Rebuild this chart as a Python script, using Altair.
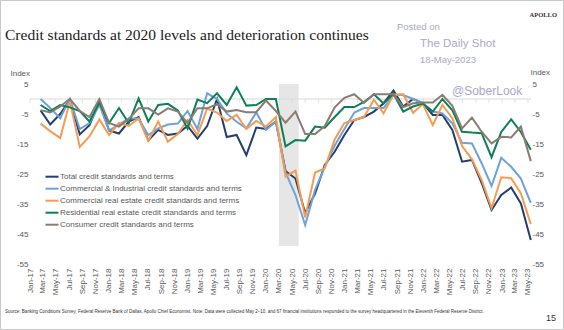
import altair as alt
import pandas as pd

# ---------------- data ----------------
dates = [
    "2017-02-19", "2017-04-05", "2017-05-21", "2017-07-05", "2017-08-20", "2017-10-04",
    "2017-11-19", "2018-01-03", "2018-02-18", "2018-04-04", "2018-05-20", "2018-07-04",
    "2018-08-19", "2018-10-03", "2018-11-18", "2019-01-02", "2019-02-17", "2019-04-03",
    "2019-05-19", "2019-07-03", "2019-08-18", "2019-10-02", "2019-11-17", "2020-01-01",
    "2020-02-16", "2020-04-01", "2020-05-17", "2020-07-01", "2020-08-16", "2020-09-30",
    "2020-11-15", "2020-12-30", "2021-02-14", "2021-03-31", "2021-05-16", "2021-06-30",
    "2021-08-15", "2021-09-29", "2021-11-14", "2021-12-29", "2022-02-13", "2022-03-30",
    "2022-05-15", "2022-06-29", "2022-08-14", "2022-09-28", "2022-11-13", "2022-12-28",
    "2023-02-12", "2023-03-29", "2023-05-14",
]

total = [-3.8, -8.5, -5.0, -0.3, -11.8, -8.7, -1.0, -10.5, -11.5, -7.5,
         -6.0, -13.8, -10.3, -12.0, -11.5, -9.0, -13.2, -9.0, 0.0, -12.7,
         -12.0, -18.7, -9.5, -10.0, -7.5, -24.0, -26.5, -38.0, -31.5, -22.0,
         -17.6, -12.0, -7.0, -6.0, -4.2, -1.4, 2.8, -2.5, 0.0, -1.4,
         -5.3, -5.3, -10.3, -20.9, -20.3, -28.0, -37.0, -32.0, -29.5, -34.8,
         -47.0]
ci = [0.0, -3.0, -6.4, 0.0, -10.0, -8.0, -2.0, -10.5, -8.5, -6.5,
      -6.5, -12.0, -9.8, -8.5, -8.2, -4.0, -10.0, 1.9, 0.0, -4.8,
      -7.6, -9.8, -4.5, -10.3, -7.5, -24.5, -32.0, -42.0, -30.3, -22.6,
      -15.5, -10.0, -4.5, -3.0, -3.0, -3.0, 1.3, 1.3, 0.0, -1.4,
      -4.2, -4.8, -8.1, -14.6, -14.8, -21.4, -29.0, -19.6, -22.6, -26.5,
      -34.6]
cre = [-8.2, -10.7, -13.0, -0.8, -16.0, -12.5, -6.8, -12.0, -8.0, -9.0,
       -6.5, -14.0, -7.5, -14.2, -11.7, -7.0, -12.0, -3.2, -4.5, -7.3,
       -5.3, -10.0, -7.3, -9.2, -6.0, -25.9, -23.9, -39.5, -24.5, -23.1,
       -13.5, -8.0, -7.0, -6.0, -0.3, -4.8, 1.5, 1.6, -4.6, -1.7,
       -8.7, -2.0, -6.4, -15.7, -20.1, -27.0, -36.4, -26.1, -26.4, -31.4,
       -41.7]
res = [-2.0, -4.0, -2.0, -2.8, -4.0, -7.5, -1.2, -8.0, -3.0, -8.0,
       0.2, -7.5, -2.0, -1.6, -3.8, -9.8, -0.2, -1.4, 1.9, -2.0,
       3.9, -2.2, -2.0, 0.0, 0.0, -15.8, -13.7, -13.9, -9.2, -9.6,
       -6.0, -2.7, -2.7, -1.0, 1.6, -1.5, 1.7, -4.2, -2.5, -1.5,
       -4.2, 0.0, -3.8, -10.9, -11.2, -11.4, -19.4, -11.0, -6.8, -11.0,
       -16.9]
cons = [-3.7, -4.5, -2.5, 0.0, -4.0, -6.0, 0.0, -8.0, -9.2, -6.7,
        -3.1, -3.1, -5.2, -3.1, -4.2, -8.0, -3.1, -3.1, -1.7, -4.2,
        -3.7, -4.4, -4.4, -0.5, -4.0, -7.9, -4.2, -11.7, -11.7, -9.0,
        -2.8, 0.4, 1.6, -1.3, 1.6, 1.6, 1.6, -2.7, -1.4, -1.2,
        -1.2, 1.4, -2.3, -9.8, -6.2, -10.9, -14.8, -12.6, -12.8, -9.2,
        -20.7]

series_names = [
    "Total credit standards and terms",
    "Commercial & Industrial credit standards and terms",
    "Commercial real estate credit standards and terms",
    "Residential real estate credit standards and terms",
    "Consumer credit standards and terms",
]
series_values = [total, ci, cre, res, cons]
series_colors = ["#253F6C", "#6EA2DA", "#F59B52", "#0E7F57", "#8A7C73"]

y_ticks = [5, -5, -15, -25, -35, -45, -55]
tick_months = [(y, m) for y in range(2017, 2024) for m in (1, 3, 5, 7, 9, 11) if (y, m) <= (2023, 5)]
shade_start, shade_end = "2020-03-01", "2020-06-01"
shade_top, shade_bottom = 5, -49

title_text = "Credit standards at 2020 levels and deterioration continues"
source_text = ("Source: Banking Conditions Survey, Federal Reserve Bank of Dallas, Apollo Chief Economist. "
               "Note: Data were collected May 2\u201310, and 67 financial institutions responded to the survey "
               "headquartered in the Eleventh Federal Reserve District.")

rows = []
for name, vals in zip(series_names, series_values):
    for d, v in zip(dates, vals):
        rows.append({"date": d, "series": name, "value": v})
df = pd.DataFrame(rows)

ticks_df = pd.DataFrame({"d": [f"{y}-{m:02d}-01" for (y, m) in tick_months]})
zero_df = pd.DataFrame({"v": [0]})
shade_df = pd.DataFrame({"start": [shade_start], "end": [shade_end],
                         "top": [shade_top], "bottom": [shade_bottom]})

# ---------------- styling ----------------
W, H = 501, 180
FONT = "Liberation Sans"
GREY = "#595959"
WM = "#A9A9CC"

x_scale = alt.Scale(type="utc",
                    domain=[alt.DateTime(year=2017, month=1, date=1, utc=True),
                            alt.DateTime(year=2023, month=5, date=15, utc=True)])
y_scale = alt.Scale(domain=[-55, 5], nice=False, zero=False)

x_axis = alt.Axis(values=[alt.DateTime(year=y, month=m, date=1, utc=True) for (y, m) in tick_months],
                  format="%b-%y", labelAngle=-90, labelFontSize=8, labelFont=FONT,
                  labelColor=GREY, ticks=False, domain=False, grid=False, labelPadding=4,
                  labelOverlap=False, labelFlush=False, title=None)

y_axis_left = alt.Axis(values=y_ticks,
                       labelExpr="datum.value < 0 ? '-' + (-datum.value) : '' + datum.value",
                       ticks=False, domain=False, grid=False, labelFontSize=8, labelFont=FONT,
                       labelColor=GREY, labelPadding=2, title="Index", titleAngle=0,
                       titleAlign="left", titleBaseline="middle", titleX=-20, titleY=-11,
                       titleFontSize=8, titleFontWeight="normal", titleColor=GREY, titleFont=FONT)
y_axis_right = alt.Axis(values=y_ticks, orient="right",
                        labelExpr="datum.value < 0 ? '-' + (-datum.value) : '\u00a0' + datum.value",
                        ticks=False, domain=False, grid=False, labelFontSize=8, labelFont=FONT,
                        labelColor=GREY, labelPadding=1, title="Index", titleAngle=0,
                        titleAlign="left", titleBaseline="middle", titleX=-1, titleY=-12,
                        titleFontSize=8, titleFontWeight="normal", titleColor=GREY, titleFont=FONT)

color_enc = alt.Color("series:N",
                      scale=alt.Scale(domain=series_names, range=series_colors),
                      legend=alt.Legend(orient="none", legendX=14, legendY=84.7, title=None,
                                        symbolType="stroke", symbolSize=170, symbolStrokeWidth=2,
                                        labelFontSize=8, labelFont=FONT, labelColor=GREY,
                                        rowPadding=0, labelOffset=0, padding=0, symbolOffset=0,
                                        direction="vertical", labelLimit=400))

# ---------------- layers ----------------
shade = alt.Chart(shade_df).mark_rect(color="#E6E6E6").encode(
    x=alt.X("start:T", scale=x_scale, axis=x_axis), x2="end:T",
    y=alt.Y("top:Q", scale=y_scale, axis=y_axis_left), y2="bottom:Q")

zero_line = alt.Chart(zero_df).mark_rule(color="#D9D9D9", strokeWidth=1).encode(
    y=alt.Y("v:Q", scale=y_scale, axis=y_axis_left))

zero_ticks = alt.Chart(ticks_df).mark_tick(color="#D9D9D9", size=4, thickness=1, yOffset=2,
                                           orient="vertical").encode(
    x=alt.X("d:T", scale=x_scale, axis=x_axis),
    y=alt.Y("v:Q", scale=y_scale, axis=y_axis_left)).transform_calculate(v="0")

line_layers = []
for name in series_names:
    line_layers.append(
        alt.Chart(df).transform_filter(alt.datum.series == name).mark_line(strokeWidth=2).encode(
            x=alt.X("date:T", scale=x_scale, axis=x_axis),
            y=alt.Y("value:Q", scale=y_scale, axis=y_axis_left),
            color=color_enc))

right_axis = alt.Chart(zero_df).mark_rule(opacity=0).encode(
    y=alt.Y("v:Q", scale=y_scale, axis=y_axis_right))


def txt(text, x, y, size, color, font=FONT, align="left", baseline="middle", weight="normal"):
    return alt.Chart(pd.DataFrame({"t": [text]})).mark_text(
        align=align, baseline=baseline, font=font, fontSize=size, color=color,
        fontWeight=weight).encode(text="t:N", x=alt.value(x), y=alt.value(y))


texts = [
    txt(title_text, -25, -44.5, 15.5, "#1A1A1A", font="Liberation Serif", baseline="alphabetic"),
    txt("APOLLO", 527, -69, 6.5, "#333333", font="Liberation Serif", align="right", weight="bold"),
    txt("Posted on", 367, -57, 9.5, WM),
    txt("The Daily Shot", 390, -40, 11.5, WM),
    txt("18-May-2023", 390, -24, 9.5, WM),
    txt("@SoberLook", 422, 7, 12, WM),
    txt(source_text, -25, 228, 4.5, "#333333"),
    txt("15", 526, 234, 9, "#333333", align="right"),
]

frame = alt.Chart(zero_df).mark_rect(fill=None, stroke="#C8C8C8", strokeWidth=1).encode(
    x=alt.value(-29.5), x2=alt.value(W + 32.5), y=alt.value(-83.5), y2=alt.value(H + 65.5))

inner = alt.layer(shade, zero_line, zero_ticks, *line_layers)
chart = alt.layer(inner, right_axis, *texts, frame).resolve_scale(y="independent").properties(
    width=W, height=H,
    autosize=alt.AutoSizeParams(type="none"),
    padding={"left": 30, "top": 84, "right": 33, "bottom": 66},
    background="white",
).configure_view(stroke=None)

chart.save("out.html", embed_options={"renderer": "svg", "actions": False})
